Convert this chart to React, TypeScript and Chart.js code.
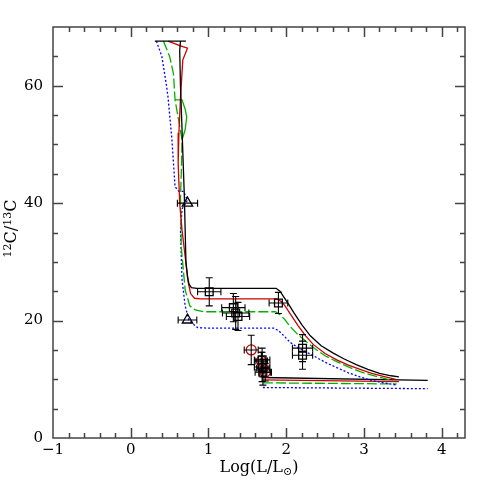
import React, { useEffect, useRef } from "react";
import { Chart, registerables } from "chart.js";
Chart.register(...registerables);

// Axis ranges and tick labels
const X_MIN = -1;
const X_MAX = 4.3;
const Y_MIN = 0;
const Y_MAX = 70;
const X_TICKS = [-1, 0, 1, 2, 3, 4];
const Y_TICKS = [0, 20, 40, 60];
const X_MINOR_STEP = 0.2;
const Y_MINOR_STEP = 5;

// Model tracks (upper branches)
const BLACK_X = [0.31, 0.71, 0.64, 0.63, 0.64, 0.66, 0.69, 0.71, 0.73, 0.75, 0.78, 0.85, 1.2, 1.6, 1.87, 1.92, 1.97, 2.02, 2.1, 2.2, 2.31, 2.45, 2.6, 2.74, 2.9, 3.05, 3.2, 3.35, 3.45];
const BLACK_Y = [67.6, 67.6, 67.6, 66, 60, 52.5, 41, 30, 27.5, 26.2, 25.6, 25.5, 25.5, 25.5, 25.5, 25.0, 24.0, 23.0, 21.3, 19.3, 17.4, 15.7, 14.5, 13.5, 12.5, 11.7, 11.0, 10.6, 10.4];

const RED_X = [0.48, 0.64, 0.73, 0.67, 0.64, 0.62, 0.61, 0.63, 0.66, 0.71, 0.74, 0.77, 0.82, 0.9, 1.5, 1.88, 1.93, 1.98, 2.05, 2.15, 2.25, 2.35, 2.5, 2.65, 2.8, 2.95, 3.1, 3.25, 3.41];
const RED_Y = [67.6, 66.8, 66.4, 64.4, 58, 52, 46.8, 40, 35.4, 29.8, 26.5, 24.6, 23.8, 23.7, 23.7, 23.7, 23.3, 22.6, 21.2, 19.2, 17.4, 15.9, 14.4, 13.3, 12.4, 11.7, 11.0, 10.5, 10.0];

const GREEN_X = [0.42, 0.5, 0.55, 0.57, 0.66, 0.65, 0.64, 0.65, 0.7, 0.76, 0.83, 0.95, 1.5, 1.86, 1.92, 1.98, 2.05, 2.15, 2.25, 2.35, 2.5, 2.65, 2.8, 2.95, 3.1, 3.25, 3.38];
const GREEN_Y = [67.6, 65, 62, 57.6, 50.8, 45, 41, 32.5, 25.2, 22.5, 21.8, 21.5, 21.5, 21.5, 21.0, 20.2, 19.0, 17.6, 16.5, 15.4, 14.0, 13.0, 12.1, 11.3, 10.7, 10.2, 9.7];

const GREEN_SOLID_X = [0.57, 0.66, 0.7, 0.72, 0.7, 0.66];
const GREEN_SOLID_Y = [57.6, 57.6, 56, 54.7, 52.5, 50.8];

const BLUE_X = [0.33, 0.4, 0.46, 0.48, 0.53, 0.57, 0.62, 0.68, 0.73, 0.66, 0.64, 0.66, 0.7, 0.75, 0.86, 1.0, 1.5, 1.84, 1.9, 1.97, 2.05, 2.15, 2.31, 2.5, 2.65, 2.8, 2.95, 3.1, 3.25, 3.43];
const BLUE_Y = [67.6, 65, 60, 58, 50.8, 42.8, 42, 42, 40.5, 39, 35.4, 26.9, 22.5, 20.0, 18.8, 18.7, 18.7, 18.7, 18.3, 17.4, 16.3, 15.4, 14.3, 12.9, 12.0, 11.1, 10.4, 9.8, 9.4, 9.0];

// Model tracks (lower branches)
const BLACK_LOW_X = [1.69, 3.82];
const BLACK_LOW_Y = [10.3, 9.8];
const RED_LOW_X = [1.7, 3.45];
const RED_LOW_Y = [9.9, 9.6];
const GREEN_LOW_X = [1.7, 3.42];
const GREEN_LOW_Y = [9.4, 9.2];
const BLUE_LOW_X = [1.7, 3.82];
const BLUE_LOW_Y = [8.6, 8.4];

// Observations
const SQ_X = [1.01, 1.32, 1.35, 1.38, 1.9, 2.21, 2.21, 1.69, 1.69, 1.7];
const SQ_Y = [24.9, 22.2, 21.3, 20.7, 23.0, 15.3, 14.1, 13.3, 12.1, 11.2];
const SQ_XERR = [0.15, 0.15, 0.17, 0.15, 0.12, 0.13, 0.13, 0.1, 0.1, 0.1];
const SQ_YERR = [2.4, 2.4, 2.8, 2.4, 1.8, 2.3, 2.4, 2.0, 2.5, 2.2];

const TR_X = [0.73, 0.73];
const TR_Y = [40.0, 20.1];
const TR_XERR = [0.13, 0.12];
const TR_YERR = [0, 0];

const CI_X = [1.55, 1.68, 1.7, 1.73];
const CI_Y = [15.0, 13.1, 11.9, 11.2];
const CI_XERR = [0.09, 0.08, 0.08, 0.08];
const CI_YERR = [2.5, 1.5, 1.5, 1.5];

const COL_BLACK = "#000000";
const COL_RED = "#cc0000";
const COL_GREEN = "#00b000";
const COL_BLUE = "#0000ff";
const FONT = "'DejaVu Serif', serif";

const pts = (xs: number[], ys: number[]) => xs.map((x, i) => ({ x, y: ys[i] }));

const lineDs = (label: string, xs: number[], ys: number[], color: string, dash: number[] = []) => ({
  label,
  data: pts(xs, ys),
  showLine: true,
  borderColor: color,
  backgroundColor: color,
  borderWidth: 1.3,
  borderDash: dash,
  pointRadius: 0,
  tension: 0,
  order: 2,
});

const markerDs = (label: string, xs: number[], ys: number[], xe: number[], ye: number[], style: string, r: number, color: string) => ({
  label,
  data: pts(xs, ys),
  showLine: false,
  pointStyle: style,
  pointRadius: r,
  pointBorderColor: color,
  pointBackgroundColor: "rgba(0,0,0,0)",
  pointBorderWidth: 1.3,
  borderColor: color,
  errX: xe,
  errY: ye,
  order: 1,
});

const errorBarPlugin = {
  id: "errorBars",
  afterDatasetsDraw(chart: any) {
    const { ctx, scales } = chart;
    const xs = scales.x;
    const ys = scales.y;
    ctx.save();
    ctx.strokeStyle = "#000";
    ctx.lineWidth = 1.1;
    const cap = 3.5;
    chart.data.datasets.forEach((ds: any) => {
      if (!ds.errX) return;
      ds.data.forEach((p: any, i: number) => {
        const cx = xs.getPixelForValue(p.x);
        const cy = ys.getPixelForValue(p.y);
        const ex = ds.errX[i];
        const ey = ds.errY[i];
        ctx.beginPath();
        if (ex > 0) {
          const x1 = xs.getPixelForValue(p.x - ex);
          const x2 = xs.getPixelForValue(p.x + ex);
          ctx.moveTo(x1, cy); ctx.lineTo(x2, cy);
          ctx.moveTo(x1, cy - cap); ctx.lineTo(x1, cy + cap);
          ctx.moveTo(x2, cy - cap); ctx.lineTo(x2, cy + cap);
        }
        if (ey > 0) {
          const y1 = ys.getPixelForValue(p.y - ey);
          const y2 = ys.getPixelForValue(p.y + ey);
          ctx.moveTo(cx, y1); ctx.lineTo(cx, y2);
          ctx.moveTo(cx - cap, y1); ctx.lineTo(cx + cap, y1);
          ctx.moveTo(cx - cap, y2); ctx.lineTo(cx + cap, y2);
        }
        ctx.stroke();
      });
    });
    ctx.restore();
  },
};

const framePlugin = {
  id: "frame",
  afterDraw(chart: any) {
    const { ctx, chartArea: a, scales } = chart;
    const xs = scales.x;
    const ys = scales.y;
    ctx.save();
    ctx.strokeStyle = "#444";
    ctx.lineWidth = 1.5;
    ctx.strokeRect(a.left, a.top, a.right - a.left, a.bottom - a.top);
    ctx.beginPath();
    const nx = Math.round((X_MAX - X_MIN) / X_MINOR_STEP);
    for (let i = 1; i <= nx; i++) {
      const v = X_MIN + i * X_MINOR_STEP;
      if (v >= X_MAX - 1e-6) break;
      const major = Math.abs(v - Math.round(v)) < 1e-6;
      const len = major ? 10 : 5;
      const px = Math.round(xs.getPixelForValue(v)) + 0.5;
      ctx.moveTo(px, a.bottom); ctx.lineTo(px, a.bottom - len);
      ctx.moveTo(px, a.top); ctx.lineTo(px, a.top + len);
    }
    for (let v = Y_MIN + Y_MINOR_STEP; v < Y_MAX - 1e-6; v += Y_MINOR_STEP) {
      const major = v % 20 === 0;
      const len = major ? 10 : 5;
      const py = Math.round(ys.getPixelForValue(v)) + 0.5;
      ctx.moveTo(a.left, py); ctx.lineTo(a.left + len, py);
      ctx.moveTo(a.right, py); ctx.lineTo(a.right - len, py);
    }
    ctx.stroke();

    // x title: Log(L/L⊙)
    ctx.fillStyle = "#000";
    ctx.textBaseline = "alphabetic";
    const big = `16px ${FONT}`;
    const small = `11px ${FONT}`;
    const parts: [string, boolean][] = [["Log(L/L", false], ["⊙", true], [")", false]];
    let total = 0;
    parts.forEach(([t, s]) => { ctx.font = s ? small : big; total += ctx.measureText(t).width; });
    let x = (a.left + a.right) / 2 - total / 2;
    const base = 472;
    parts.forEach(([t, s]) => {
      ctx.font = s ? small : big;
      ctx.fillText(t, x, s ? base + 3 : base);
      x += ctx.measureText(t).width;
    });

    // y title: 12C/13C
    const yparts: [string, boolean][] = [["12", true], ["C/", false], ["13", true], ["C", false]];
    let ytotal = 0;
    yparts.forEach(([t, s]) => { ctx.font = s ? small : big; ytotal += ctx.measureText(t).width; });
    ctx.translate(16, (a.top + a.bottom) / 2 - 4);
    ctx.rotate(-Math.PI / 2);
    let yx = -ytotal / 2;
    yparts.forEach(([t, s]) => {
      ctx.font = s ? small : big;
      ctx.fillText(t, yx, s ? -5 : 0);
      yx += ctx.measureText(t).width;
    });
    ctx.restore();
  },
};

export default function App() {
  const ref = useRef<HTMLCanvasElement | null>(null);
  useEffect(() => {
    document.body.style.margin = "0";
    const canvas = ref.current;
    if (!canvas) return;
    const chart = new Chart(canvas, {
      type: "scatter",
      data: {
        datasets: [
          markerDs("squares", SQ_X, SQ_Y, SQ_XERR, SQ_YERR, "rect", 5.5, COL_BLACK),
          markerDs("triangles", TR_X, TR_Y, TR_XERR, TR_YERR, "triangle", 6, COL_BLACK),
          markerDs("circles", CI_X, CI_Y, CI_XERR, CI_YERR, "circle", 5, COL_RED),
          lineDs("black", BLACK_X, BLACK_Y, COL_BLACK),
          lineDs("red", RED_X, RED_Y, COL_RED),
          lineDs("green", GREEN_X, GREEN_Y, COL_GREEN, [10, 3]),
          lineDs("green solid", GREEN_SOLID_X, GREEN_SOLID_Y, COL_GREEN),
          lineDs("blue", BLUE_X, BLUE_Y, COL_BLUE, [2, 2]),
          lineDs("black low", BLACK_LOW_X, BLACK_LOW_Y, COL_BLACK),
          lineDs("red low", RED_LOW_X, RED_LOW_Y, COL_RED),
          lineDs("green low", GREEN_LOW_X, GREEN_LOW_Y, COL_GREEN, [10, 3]),
          lineDs("blue low", BLUE_LOW_X, BLUE_LOW_Y, COL_BLUE, [2, 2]),
        ] as any,
      },
      options: {
        animation: false,
        responsive: false,
        devicePixelRatio: 1,
        layout: { padding: { top: 27, right: 26, left: 0, bottom: 0 } },
        plugins: { legend: { display: false }, tooltip: { enabled: false } },
        scales: {
          x: {
            type: "linear",
            min: X_MIN,
            max: X_MAX,
            grid: { display: false, drawTicks: false },
            border: { display: false },
            afterFit: (s: any) => { s.height = 53; },
            afterBuildTicks: (s: any) => { s.ticks = X_TICKS.map((v) => ({ value: v })); },
            ticks: {
              padding: 3,
              color: "#000",
              font: { family: FONT, size: 15 },
              callback: (v: any) => String(v).replace("-", "\u2212"),
            },
          },
          y: {
            type: "linear",
            min: Y_MIN,
            max: Y_MAX,
            grid: { display: false, drawTicks: false },
            border: { display: false },
            afterFit: (s: any) => { s.width = 53; },
            afterBuildTicks: (s: any) => { s.ticks = Y_TICKS.map((v) => ({ value: v })); },
            ticks: {
              padding: 10,
              color: "#000",
              font: { family: FONT, size: 15 },
            },
          },
        },
      } as any,
      plugins: [errorBarPlugin, framePlugin],
    });
    return () => chart.destroy();
  }, []);
  return (
    <div style={{ width: 491, height: 491 }}>
      <canvas ref={ref} width={491} height={491} style={{ display: "block" }} />
    </div>
  );
}
